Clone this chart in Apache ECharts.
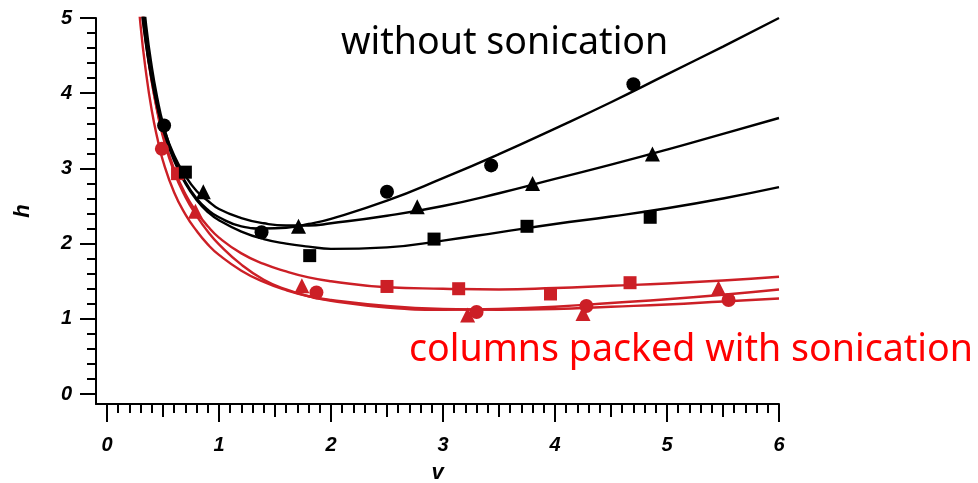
<!DOCTYPE html>
<html>
<head>
<meta charset="utf-8">
<script src="https://cdn.jsdelivr.net/npm/echarts@6/dist/echarts.min.js"></script>
<style>
html,body{margin:0;padding:0;background:#fff;}
#chart{width:978px;height:483px;}
</style>
</head>
<body>
<div id="chart"></div>
<script>
// ---- tick labels ----
const xTickLabels = [0, 1, 2, 3, 4, 5, 6];
const yTickLabels = [0, 1, 2, 3, 4, 5];

// ---- fitted curves (v grid + h values) ----
const curveV = [0.25, 0.3, 0.35, 0.4, 0.45, 0.5, 0.6, 0.7, 0.8, 0.9, 1.0, 1.2, 1.4, 1.6, 1.8, 2.0, 2.5, 3.0, 3.5, 4.0, 4.5, 5.0, 5.5, 6.0];
const fitBlackCircle   = [6.6, 5.65, 4.90, 4.35, 3.93, 3.60, 3.13, 2.82, 2.60, 2.45, 2.35, 2.23, 2.20, 2.21, 2.26, 2.33, 2.57, 2.87, 3.19, 3.53, 3.88, 4.25, 4.62, 5.00];
const fitBlackTriangle = [6.1, 5.24, 4.63, 4.18, 3.83, 3.56, 3.17, 2.90, 2.70, 2.57, 2.46, 2.34, 2.27, 2.24, 2.24, 2.27, 2.37, 2.50, 2.67, 2.86, 3.05, 3.25, 3.46, 3.67];
const fitBlackSquare   = [6.5, 5.60, 4.70, 4.20, 3.82, 3.52, 3.10, 2.80, 2.58, 2.42, 2.31, 2.16, 2.06, 2.00, 1.96, 1.93, 1.95, 2.04, 2.15, 2.26, 2.36, 2.47, 2.60, 2.75];
const fitRedCircle     = [5.81, 4.90, 4.26, 3.77, 3.40, 3.10, 2.68, 2.39, 2.17, 1.99, 1.85, 1.64, 1.49, 1.38, 1.30, 1.25, 1.17, 1.13, 1.12, 1.13, 1.16, 1.19, 1.23, 1.27];
const fitRedTriangle   = [6.40, 5.30, 4.65, 4.15, 3.75, 3.42, 2.95, 2.62, 2.37, 2.16, 1.99, 1.72, 1.52, 1.39, 1.30, 1.24, 1.15, 1.12, 1.13, 1.16, 1.21, 1.26, 1.32, 1.39];
const fitRedSquare     = [6.29, 5.34, 4.67, 4.16, 3.77, 3.45, 2.99, 2.66, 2.42, 2.23, 2.08, 1.87, 1.73, 1.63, 1.55, 1.50, 1.42, 1.40, 1.39, 1.41, 1.44, 1.47, 1.51, 1.56];

// ---- measured points ----
const blackCircleV   = [0.51, 1.38, 2.50, 3.43, 4.70];
const blackCircleH   = [3.57, 2.15, 2.69, 3.04, 4.12];
const blackTriangleV = [0.86, 1.71, 2.77, 3.80, 4.87];
const blackTriangleH = [2.69, 2.23, 2.49, 2.80, 3.19];
const blackSquareV   = [0.70, 1.81, 2.92, 3.75, 4.85];
const blackSquareH   = [2.95, 1.84, 2.06, 2.23, 2.35];
const redCircleV     = [0.49, 1.87, 3.30, 4.28, 5.55];
const redCircleH     = [3.26, 1.35, 1.09, 1.17, 1.25];
const redTriangleV   = [0.79, 1.74, 3.22, 4.25, 5.46];
const redTriangleH   = [2.43, 1.44, 1.05, 1.07, 1.41];
const redSquareV     = [0.63, 2.50, 3.14, 3.96, 4.67];
const redSquareH     = [2.93, 1.43, 1.40, 1.33, 1.48];

const BLACK = '#000000';
const RED = '#CC1F26';

const xMin = -0.098, xMax = 6;
const yMin = -0.133, yMax = 5;

function steps(a, b, s) { const r = []; for (let i = 0; a + i * s <= b + 1e-9; i++) r.push(+(a + i * s).toFixed(2)); return r; }
const xMinorTicks = steps(0, 6, 0.1);
const xMidTicks = steps(0, 6, 0.5);
const yMinorTicks = steps(0, 5, 0.2);

const labelFont = { fontFamily: 'Liberation Sans, Arial, sans-serif', fontWeight: 'bold', fontStyle: 'italic', fontSize: 20, color: '#000' };

function pairs(xs, ys) { return xs.map((x, i) => [x, ys[i]]); }

function lineSeries(ys, color) {
  return { type: 'line', data: pairs(curveV, ys), showSymbol: false, symbol: 'none', smooth: 0.5,
    lineStyle: { color: color, width: 2.4 }, clip: true, z: 2, silent: true };
}
function pointSeries(xs, ys, color, symbol, size) {
  return { type: 'scatter', data: pairs(xs, ys), symbol: symbol, symbolSize: size,
    itemStyle: { color: color, opacity: 1 }, z: 3, silent: true };
}

function baseAxis(extra) {
  return Object.assign({ type: 'value', splitLine: { show: false }, axisLabel: { show: false }, axisLine: { show: false, onZero: false } }, extra);
}

const chart = echarts.init(document.getElementById('chart'), null, { renderer: 'canvas' });
chart.setOption({
  animation: false,
  backgroundColor: '#ffffff',
  grid: { left: 96, right: 199, top: 18, bottom: 79, containLabel: false, outerBoundsMode: 'none' },
  xAxis: [
    baseAxis({ position: 'bottom', min: xMin, max: xMax,
      axisLine: { show: true, onZero: false, lineStyle: { color: '#000', width: 2 } },
      axisTick: { show: true, customValues: xTickLabels, length: 18, lineStyle: { color: '#000', width: 2 } },
      axisLabel: Object.assign({ show: true, customValues: xTickLabels, margin: 31 }, labelFont),
      name: 'v', nameLocation: 'middle', nameGap: 58,
      nameTextStyle: { fontFamily: 'Liberation Sans, Arial, sans-serif', fontWeight: 'bold', fontStyle: 'italic', fontSize: 22, color: '#000' } }),
    baseAxis({ position: 'bottom', min: xMin, max: xMax,
      axisTick: { show: true, customValues: xMidTicks, length: 13, lineStyle: { color: '#000', width: 2 } } }),
    baseAxis({ position: 'bottom', min: xMin, max: xMax,
      axisTick: { show: true, customValues: xMinorTicks, length: 9, lineStyle: { color: '#000', width: 2 } } })
  ],
  yAxis: [
    baseAxis({ position: 'left', min: yMin, max: yMax,
      axisLine: { show: true, onZero: false, lineStyle: { color: '#000', width: 2 } },
      axisTick: { show: true, customValues: yTickLabels, length: 16, lineStyle: { color: '#000', width: 2 } },
      axisLabel: Object.assign({ show: true, customValues: yTickLabels, margin: 24 }, labelFont),
      name: 'h', nameLocation: 'middle', nameGap: 62, nameRotate: 90,
      nameTextStyle: { fontFamily: 'Liberation Sans, Arial, sans-serif', fontWeight: 'bold', fontStyle: 'italic', fontSize: 22, color: '#000' } }),
    baseAxis({ position: 'left', min: yMin, max: yMax,
      axisTick: { show: true, customValues: yMinorTicks, length: 9, lineStyle: { color: '#000', width: 2 } } })
  ],
  series: [
    lineSeries(fitRedCircle, RED),
    lineSeries(fitRedTriangle, RED),
    lineSeries(fitRedSquare, RED),
    pointSeries(redCircleV, redCircleH, RED, 'circle', 14),
    pointSeries(redTriangleV, redTriangleH, RED, 'triangle', 15),
    pointSeries(redSquareV, redSquareH, RED, 'rect', 13),
    lineSeries(fitBlackCircle, BLACK),
    lineSeries(fitBlackTriangle, BLACK),
    lineSeries(fitBlackSquare, BLACK),
    pointSeries(blackCircleV, blackCircleH, BLACK, 'circle', 14),
    pointSeries(blackTriangleV, blackTriangleH, BLACK, 'triangle', 15),
    pointSeries(blackSquareV, blackSquareH, BLACK, 'rect', 13)
  ],
  graphic: [
    { type: 'text', left: 341, top: 24, style: { text: 'without sonication', fontFamily: 'Noto Sans', fontSize: 37.6, fill: '#000' } },
    { type: 'text', left: 409, top: 331, style: { text: 'columns packed with sonication', fontFamily: 'Noto Sans', fontSize: 37.6, fill: '#FF0000' } }
  ]
});
</script>
</body>
</html>
